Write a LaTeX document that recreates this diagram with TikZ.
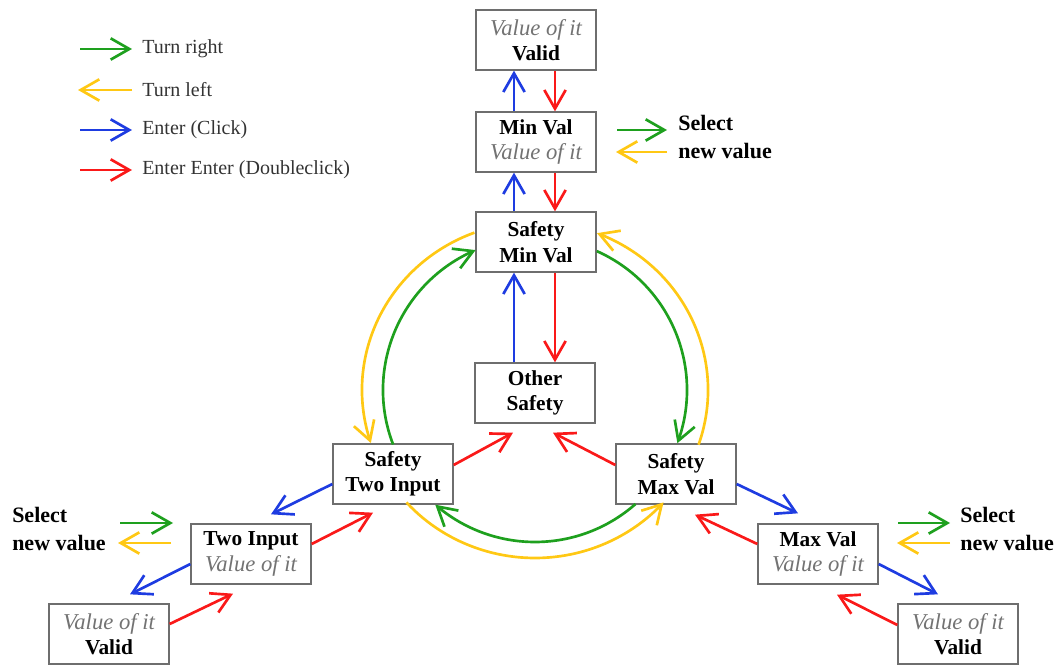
\documentclass[tikz,border=0pt]{standalone}
\usepackage{fontspec}
\setmainfont{Liberation Serif}
\usetikzlibrary{arrows.meta,calc,bending}
\definecolor{cgreen}{RGB}{30,160,30}
\definecolor{cyellow}{RGB}{255,200,20}
\definecolor{cblue}{RGB}{30,60,225}
\definecolor{cred}{RGB}{250,25,25}
\definecolor{boxgray}{RGB}{110,110,110}
\newcommand\valit{\textcolor{black!55}{\mdseries\itshape\fontsize{17}{19}\selectfont Value of it}}
\begin{document}
\begin{tikzpicture}[x=0.75pt,y=-0.75pt,
  box/.style={draw=boxgray, line width=1pt, minimum width=90pt, minimum height=45pt,
    inner sep=0pt, align=center, font=\fontsize{16}{19}\selectfont\bfseries, fill=white},
  arr/.style={line width=2pt, -{Straight Barb[length=14pt,width=16pt,line width=2pt,flex]}},
  legtxt/.style={anchor=west, inner sep=0pt, font=\fontsize{15}{16}\selectfont, text=black!80},
  seltxt/.style={anchor=west, inner sep=0pt, align=left, font=\fontsize{16.5}{21}\selectfont\bfseries}
]
\useasboundingbox (0,0) rectangle (1061,666);

% boxes
\node[box] (vtop) at (536,40) {\valit\\Valid};
\node[box] (minv) at (536,142) {Min Val\\\valit};
\node[box] (smin) at (536,242) {Safety\\Min Val};
\node[box] (oth) at (535,393) {Other\\Safety};
\node[box] (stwo) at (393,474) {Safety\\Two Input};
\node[box] (smax) at (676,474) {Safety\\Max Val};
\node[box] (tin) at (251,554) {Two Input\\\valit};
\node[box] (mval) at (818,554) {Max Val\\\valit};
\node[box] (vbl) at (109,634) {\valit\\Valid};
\node[box] (vbr) at (958,634) {\valit\\Valid};

% vertical connectors
\draw[arr, cblue] ($(minv.north)+(-22,0)$) -- ($(vtop.south)+(-22,0)$);
\draw[arr, cred] ($(vtop.south)+(19,0)$) -- ($(minv.north)+(19,0)$);
\draw[arr, cblue] ($(smin.north)+(-22,0)$) -- ($(minv.south)+(-22,0)$);
\draw[arr, cred] ($(minv.south)+(19,0)$) -- ($(smin.north)+(19,0)$);
\draw[arr, cblue] ($(oth.north)+(-21,0)$) -- ($(smin.south)+(-22,0)$);
\draw[arr, cred] ($(smin.south)+(19,0)$) -- ($(oth.north)+(20,0)$);

% diagonal connectors
\draw[arr, cred] ($(stwo.east)+(0,-9)$) -- ($(oth.south)+(-22,9)$);
\draw[arr, cred] ($(smax.west)+(0,-9)$) -- ($(oth.south)+(18,9)$);
\draw[arr, cblue] ($(stwo.west)+(0,10)$) -- ($(tin.north)+(20,-9)$);
\draw[arr, cred] ($(tin.east)+(0,-10)$) -- ($(stwo.south)+(-20,8)$);
\draw[arr, cblue] ($(tin.west)+(0,10)$) -- ($(vbl.north)+(21,-9)$);
\draw[arr, cred] ($(vbl.east)+(0,-10)$) -- ($(tin.south)+(-18,9)$);
\draw[arr, cblue] ($(smax.east)+(0,10)$) -- ($(mval.north)+(-20,-10)$);
\draw[arr, cred] ($(mval.west)+(0,-10)$) -- ($(smax.south)+(19,10)$);
\draw[arr, cblue] ($(mval.east)+(0,10)$) -- ($(vbr.north)+(-20,-9)$);
\draw[arr, cred] ($(vbr.west)+(0,-9)$) -- ($(mval.south)+(19,10)$);

% ring arcs
\coordinate (ring) at (535,390);
\draw[arr, cgreen] (ring) ++(159:152) arc[start angle=159, end angle=247, radius=152];
\draw[arr, cgreen] (ring) ++(-66:152) arc[start angle=-66, end angle=20.5, radius=152];
\draw[arr, cgreen] (ring) ++(48.6:152) arc[start angle=48.6, end angle=131, radius=152];
\draw[arr, cyellow] (ring) ++(249.5:173 and 168) arc[start angle=249.5, end angle=161.6, x radius=173, y radius=168];
\draw[arr, cyellow] (ring) ++(19:173 and 168) arc[start angle=19, end angle=-69, x radius=173, y radius=168];
\draw[arr, cyellow] (ring) ++(138:173 and 168) arc[start angle=138, end angle=42, x radius=173, y radius=168];

% legend
\coordinate (lg1a) at (80,49);  \coordinate (lg1b) at (132,49);
\coordinate (lg2a) at (132,90); \coordinate (lg2b) at (78,90);
\coordinate (lg3a) at (80,130); \coordinate (lg3b) at (132,130);
\coordinate (lg4a) at (80,170); \coordinate (lg4b) at (132,170);
\draw[arr, cgreen] (lg1a) -- (lg1b);
\draw[arr, cyellow] (lg2a) -- (lg2b);
\draw[arr, cblue] (lg3a) -- (lg3b);
\draw[arr, cred] (lg4a) -- (lg4b);
\node[legtxt] (lt1) at (142,49) {Turn right};
\node[legtxt] (lt2) at (142,90) {Turn left};
\node[legtxt] (lt3) at (142,130) {Enter (Click)};
\node[legtxt] (lt4) at (142,170) {Enter Enter (Doubleclick)};

% select new value (top)
\node[seltxt] (sel1) at (678,137) {Select\\new value};
\coordinate (s1a) at (617,130); \coordinate (s1b) at (667,130);
\coordinate (s1c) at (667,152); \coordinate (s1d) at (616,152);
\draw[arr, cgreen] (s1a) -- (s1b);
\draw[arr, cyellow] (s1c) -- (s1d);

% select new value (left)
\node[seltxt] (sel2) at (12,529) {Select\\new value};
\coordinate (s2a) at (120,523); \coordinate (s2b) at (173,523);
\coordinate (s2c) at (171,543); \coordinate (s2d) at (118,543);
\draw[arr, cgreen] (s2a) -- (s2b);
\draw[arr, cyellow] (s2c) -- (s2d);

% select new value (right)
\node[seltxt] (sel3) at (960,529) {Select\\new value};
\coordinate (s3a) at (898,523); \coordinate (s3b) at (950,523);
\coordinate (s3c) at (950,543); \coordinate (s3d) at (897,543);
\draw[arr, cgreen] (s3a) -- (s3b);
\draw[arr, cyellow] (s3c) -- (s3d);
\end{tikzpicture}
\end{document}
